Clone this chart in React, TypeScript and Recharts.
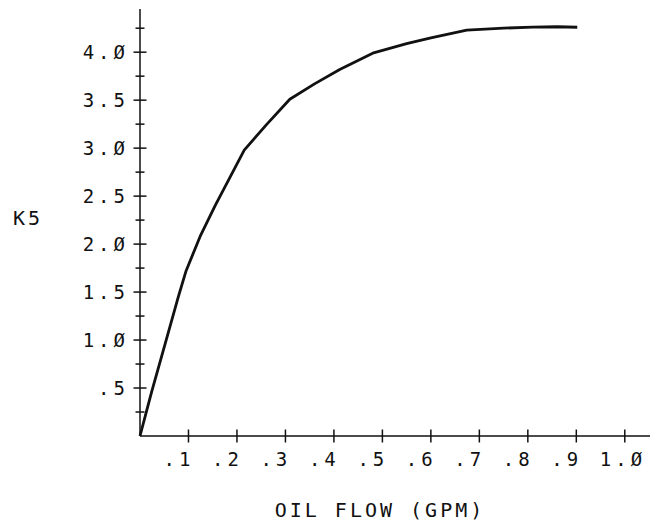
import { LineChart, Line, XAxis, YAxis, Label } from "recharts";

// oil flow (GPM) vs K5
const flow = [0, 0.012, 0.024, 0.054, 0.079, 0.095, 0.124, 0.155, 0.215, 0.26, 0.309, 0.36, 0.412, 0.48, 0.55, 0.6, 0.674, 0.75, 0.81, 0.86, 0.902];
const k5 = [0, 0.23, 0.46, 1.0, 1.45, 1.72, 2.08, 2.4, 2.98, 3.24, 3.51, 3.67, 3.82, 3.99, 4.09, 4.15, 4.23, 4.25, 4.262, 4.265, 4.26];

const flowTicks = [0.1, 0.2, 0.3, 0.4, 0.5, 0.6, 0.7, 0.8, 0.9, 1.0];
const flowLabels = [".1", ".2", ".3", ".4", ".5", ".6", ".7", ".8", ".9", "1.Ø"];

const kTicks = [0.25, 0.5, 0.75, 1.0, 1.25, 1.5, 1.75, 2.0, 2.25, 2.5, 2.75, 3.0, 3.25, 3.5, 3.75, 4.0, 4.25];
const kLabels = ["", ".5", "", "1.Ø", "", "1.5", "", "2.Ø", "", "2.5", "", "3.Ø", "", "3.5", "", "4.Ø", ""];

const data = flow.map((f, i) => ({ flow: f, k5: k5[i] }));

const FONT = "DejaVu Sans Mono";
const INK = "#111";

const FlowTick = (props: any) => {
    const { x, y, payload } = props;
    const label = flowLabels[flowTicks.indexOf(payload.value)] ?? "";
    return (
        <g>
            <line x1={x} x2={x} y1={y - 6.5} y2={y + 6.5} stroke={INK} strokeWidth={1.5} />
            <text x={x - 25} y={y + 30} fontFamily={FONT} fontSize={19} letterSpacing={4} fill={INK} textAnchor="start">
                {label}
            </text>
        </g>
    );
};

const KTick = (props: any) => {
    const { x, y, payload } = props;
    const label = kLabels[kTicks.indexOf(payload.value)] ?? "";
    const len = label ? 6.5 : 4.5;
    return (
        <g>
            <line x1={x - len} x2={x + len} y1={y} y2={y} stroke={INK} strokeWidth={1.5} />
            {label && (
                <text x={x - 11} y={y + 7} fontFamily={FONT} fontSize={19} letterSpacing={4} fill={INK} textAnchor="end">
                    {label}
                </text>
            )}
        </g>
    );
};

export default function App() {
    return (
        <div style={{ position: "absolute", left: 0, top: 0, width: 662, height: 524, background: "#fff" }}>
            <LineChart width={662} height={524} data={data} margin={{ top: 9, right: 12, left: 0, bottom: 0 }}>
                <XAxis
                    dataKey="flow"
                    type="number"
                    domain={[0, 1.052]}
                    ticks={flowTicks}
                    interval={0}
                    height={88}
                    tickSize={0}
                    tickMargin={0}
                    tickLine={false}
                    tick={<FlowTick />}
                    axisLine={{ stroke: INK, strokeWidth: 1.5 }}
                >
                    <Label
                        content={({ viewBox }: any) => (
                            <text x={viewBox.x + 240} y={viewBox.y + 81} fontFamily={FONT} fontSize={20} letterSpacing={3} fill={INK} textAnchor="middle">
                                OIL FLOW (GPM)
                            </text>
                        )}
                    />
                </XAxis>
                <YAxis
                    dataKey="k5"
                    type="number"
                    domain={[0, 4.45]}
                    ticks={kTicks}
                    interval={0}
                    width={140}
                    tickSize={0}
                    tickMargin={0}
                    tickLine={false}
                    tick={<KTick />}
                    axisLine={{ stroke: INK, strokeWidth: 1.5 }}
                >
                    <Label
                        content={({ viewBox }: any) => (
                            <text x={viewBox.x + 13} y={viewBox.y + viewBox.height / 2 + 2} fontFamily={FONT} fontSize={20} letterSpacing={3} fill={INK}>
                                K5
                            </text>
                        )}
                    />
                </YAxis>
                <Line
                    type="linear"
                    dataKey="k5"
                    stroke={INK}
                    strokeWidth={2.8}
                    strokeLinejoin="round"
                    dot={false}
                    isAnimationActive={false}
                />
            </LineChart>
        </div>
    );
}
